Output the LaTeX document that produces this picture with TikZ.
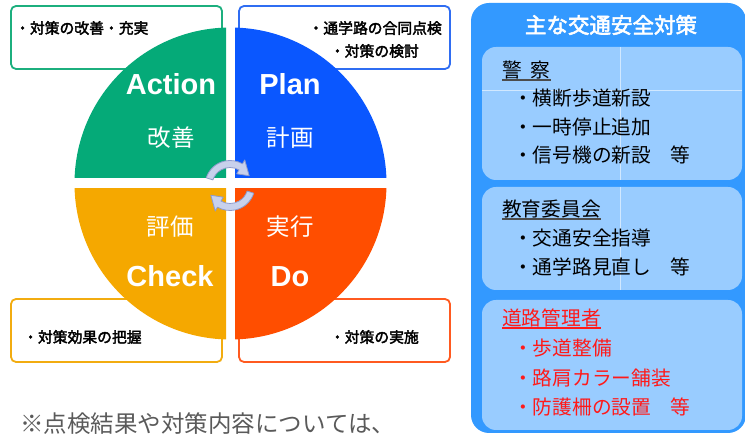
\documentclass[tikz,border=0pt]{standalone}
\usepackage{fontspec}
\newfontfamily\jp{Noto Sans CJK JP}
\newfontfamily\jpb[FakeBold=2.5]{Noto Sans CJK JP}
\newfontfamily\lat{Liberation Sans}
\newcommand\fsz[1]{\fontsize{#1pt}{#1pt}\selectfont}
\definecolor{qgreen}{HTML}{05AA78}
\definecolor{qblue}{HTML}{0A57FF}
\definecolor{qorange}{HTML}{F5A800}
\definecolor{qred}{HTML}{FF4E00}
\definecolor{bgreen}{HTML}{1CAF7E}
\definecolor{bblue}{HTML}{2F6DF2}
\definecolor{borange}{HTML}{F2AC10}
\definecolor{bred}{HTML}{FF5A20}
\definecolor{outerblue}{HTML}{3399FF}
\definecolor{panelblue}{HTML}{99CCFF}
\definecolor{redtxt}{HTML}{FF1A1A}
\definecolor{arrfill}{HTML}{C8D1EC}
\definecolor{arrdraw}{HTML}{8E9BCB}
\definecolor{notegray}{HTML}{5A5A5A}
\begin{document}
\begin{tikzpicture}[x=1pt,y=-1pt,
  cbox/.style={line width=1.8pt, rounded corners=5pt, fill=white},
  boxtxt/.style={inner sep=0pt, font=\jpb\fsz{14.8}},
  big/.style={inner sep=0pt, text=white, font=\lat\bfseries\fsz{29}, anchor=base},
  kanji/.style={inner sep=0pt, text=white, font=\jp\fsz{23.5}},
  item/.style={inner sep=0pt, anchor=west, font=\jp\fsz{19.7}},
  head/.style={inner sep=0pt, anchor=west, font=\jp\fsz{19.7}},
  cyc/.style={fill=arrfill, draw=arrdraw, line width=0.8pt, line join=round},
  panel/.style={fill=panelblue, rounded corners=14pt},
  faint/.style={draw=white, opacity=0.55, line width=0.8pt}]
\useasboundingbox (0,0) rectangle (745,435);
\clip (0,0) rectangle (745,435);

% corner boxes
\draw[cbox, draw=bgreen] (11,6) rectangle (222,69);
\draw[cbox, draw=bblue] (239,6) rectangle (450,69);
\draw[cbox, draw=borange] (11,299) rectangle (222,362);
\draw[cbox, draw=bred] (239,299) rectangle (450,362);

% quadrants
\begin{scope}\clip (0,0) rectangle (226,178);
  \fill[qgreen] (230.5,183.5) circle[radius=156];\end{scope}
\begin{scope}\clip (235,0) rectangle (400,178);
  \fill[qblue] (230.5,183.5) circle[radius=156];\end{scope}
\begin{scope}\clip (0,189) rectangle (226,350);
  \fill[qorange] (230.5,183.5) circle[radius=156];\end{scope}
\begin{scope}\clip (235,189) rectangle (400,350);
  \fill[qred] (230.5,183.5) circle[radius=156];\end{scope}

% box texts
\node[boxtxt, anchor=west] (ta) at (15,28) {・対策の改善・充実};
\node[boxtxt, anchor=east] (tp1) at (442,28) {・通学路の合同点検};
\node[boxtxt, anchor=east] (tp2) at (419,51) {・対策の検討};
\node[boxtxt, anchor=west] (tc) at (23,337) {・対策効果の把握};
\node[boxtxt, anchor=east] (td) at (419,337) {・対策の実施};

% big labels
\node[big] (action) at (171,95) {Action};
\node[big] (plan) at (290,95) {Plan};
\node[big] (check) at (170,287) {Check};
\node[big] (do) at (290,287) {Do};
\node[kanji] (kaizen) at (171,138) {改\hspace{1pt}善};
\node[kanji] (keikaku) at (290,138) {計\hspace{1pt}画};
\node[kanji] (hyoka) at (170,227) {評\hspace{1pt}価};
\node[kanji] (jikko) at (290,227) {実\hspace{1pt}行};

% cycle arrows
\begin{scope}[shift={(230,185.5)}]
  \filldraw[cyc] (198:25) arc[start angle=198, end angle=300, radius=25]
    -- (300:29.5) -- (333:21.5) -- (300:13.5) -- (300:18)
    arc[start angle=300, end angle=198, radius=18] -- cycle;
  \filldraw[cyc] (18:25) arc[start angle=18, end angle=120, radius=25]
    -- (120:29.5) -- (153:21.5) -- (120:13.5) -- (120:18)
    arc[start angle=120, end angle=18, radius=18] -- cycle;
\end{scope}

% right panel
\fill[outerblue, rounded corners=18pt] (471,3) rectangle (746,433);
\node[inner sep=0pt, text=white, font=\jpb\fsz{21.5}] (title) at (611,25) {主な交通安全対策};
\fill[panel] (482,47) rectangle (742,180);
\fill[panel] (482,187) rectangle (742,290);
\fill[panel] (482,300) rectangle (742,430);
\draw[faint] (482,90) -- (742,90);
\draw[faint] (620,47) -- (620,180);
\draw[faint] (620,187) -- (620,290);

\node[head] (police) at (502,70) {警\hspace{0.45em}察};
\draw[line width=1.3pt, draw=black!70] ([yshift=-2.5pt]police.base west) -- ([yshift=-2.5pt]police.base east);
\node[item] (p1) at (513,98) {・横断歩道新設};
\node[item] (p2) at (513,127) {・一時停止追加};
\node[item] (p3) at (513,155) {・信号機の新設\hspace{1em}等};

\node[head] (edu) at (502,209) {教育委員会};
\draw[line width=1.3pt, draw=black!70] ([yshift=-2.5pt]edu.base west) -- ([yshift=-2.5pt]edu.base east);
\node[item] (e1) at (513,238) {・交通安全指導};
\node[item] (e2) at (513,267) {・通学路見直し\hspace{1em}等};

\node[head, text=redtxt] (road) at (502,318) {道路管理者};
\draw[line width=1.3pt, draw=redtxt] ([yshift=-2.5pt]road.base west) -- ([yshift=-2.5pt]road.base east);
\node[item, text=redtxt] (r1) at (513,348) {・歩道整備};
\node[item, text=redtxt] (r2) at (513,378) {・路肩カラー舗装};
\node[item, text=redtxt] (r3) at (513,407) {・防護柵の設置\hspace{1em}等};

% note
\node[inner sep=0pt, anchor=west, text=notegray, font=\jp\fsz{23.5}] (note) at (20,424) {※点検結果や対策内容については、};
\end{tikzpicture}
\end{document}
